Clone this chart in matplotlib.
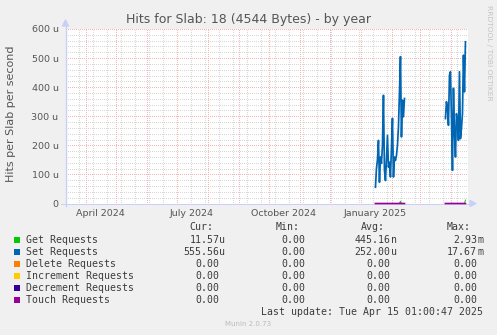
import matplotlib
matplotlib.use("Agg")
import matplotlib.pyplot as plt
import matplotlib.dates as mdates
from matplotlib.lines import Line2D
from matplotlib.patches import Polygon, Rectangle
import numpy as np
import pandas as pd

# ---------------- data ----------------
title = "Hits for Slab: 18 (4544 Bytes) - by year"
ylabel = "Hits per Slab per second"
y_ticks = [0, 100, 200, 300, 400, 500, 600]          # in micro-hits / s
y_tick_labels = ["0", "100 u", "200 u", "300 u", "400 u", "500 u", "600 u"]
x_label_dates = ["2024-04-15", "2024-07-15", "2024-10-15", "2025-01-15"]
x_labels = ["April 2024", "July 2024", "October 2024", "January 2025"]
range_start = "2024-03-11 01:00"
range_end = "2025-04-15 01:00"

seg1_start = "2025-01-15"
set_seg1 = [56, 120, 150, 217, 73, 160, 138, 200, 372, 114, 79, 150, 234, 125, 142,
            91, 190, 293, 91, 160, 148, 165, 200, 263, 380, 505, 229, 355, 298, 361]
get_seg1 = [0, 0, 0, 0, 0, 0, 0, 0, 0, 0, 0, 0, 0, 0, 0,
            0, 0, 0, 0, 0, 0, 0, 0, 0, 0, 8, 0, 0, 0, 0]

seg2_start = "2025-03-26"
set_seg2 = [292, 350, 330, 269, 441, 453, 300, 114, 396, 250, 160, 309, 280, 217,
            453, 223, 258, 309, 510, 384, 556]
get_seg2 = [0, 0, 0, 0, 0, 0, 0, 0, 0, 0, 0, 0, 0, 0,
            0, 0, 0, 0, 0, 0, 11.57]

series_names = ["Get Requests", "Set Requests", "Delete Requests",
                "Increment Requests", "Decrement Requests", "Touch Requests"]
series_colors = ["#00CC00", "#0066B3", "#FF8000", "#FFCC00", "#330099", "#990099"]
cur_vals = ["11.57u", "555.56u", "0.00", "0.00", "0.00", "0.00"]
min_vals = ["0.00", "0.00", "0.00", "0.00", "0.00", "0.00"]
avg_vals = ["445.16n", "252.00u", "0.00", "0.00", "0.00", "0.00"]
max_vals = ["2.93m", "17.67m", "0.00", "0.00", "0.00", "0.00"]
last_update = "Last update: Tue Apr 15 01:00:47 2025"
version = "Munin 2.0.73"
side_text = "RRDTOOL / TOBI OETIKER"

# ---------------- layout ----------------
W, H = 497, 335
BG = "#F0F0F0"
TXT = "#555555"
AXC = "#C8D0F6"

fig = plt.figure(figsize=(W / 100, H / 100), dpi=100, facecolor=BG)

def fx(px):
    return px / W

def fy(py):
    return 1 - py / H

L, R, T, B = 65.5, 468, 29, 203.5
ax = fig.add_axes([fx(L), fy(B), (R - L) / W, (B - T) / H])
ax.set_facecolor("white")
for s in ax.spines.values():
    s.set_visible(False)

t0 = pd.Timestamp(range_start)
t1 = pd.Timestamp(range_end)
ax.set_xlim(mdates.date2num(t0), mdates.date2num(t1 + pd.Timedelta(days=2.5)))
ax.set_ylim(0, 600)

dash = (0, (1, 1.4))
GRAY = "#D8D8D8"
RED = "#F4B6B6"
# minor vertical grid: every second Monday
for d in pd.date_range("2024-03-25", t1 + pd.Timedelta(days=3), freq="14D"):
    ax.axvline(mdates.date2num(d), color=GRAY, lw=0.72, ls=dash, zorder=0, antialiased=False)
# minor horizontal grid
for v in range(20, 601, 20):
    if v % 100:
        ax.axhline(v, color=GRAY, lw=0.72, ls=dash, zorder=0, antialiased=False)
# major vertical grid: month starts
for d in pd.date_range("2024-04-01", t1, freq="MS"):
    ax.axvline(mdates.date2num(d), color=RED, lw=0.72, ls=dash, zorder=0.5, antialiased=False)
for v in y_ticks[1:]:
    ax.axhline(v, color=RED, lw=0.72, ls=dash, zorder=0.5, antialiased=False)

# axis lines with arrows (figure pixels), drawn inside the axes below the data
tf = fig.transFigure
axis_artists = [
    Line2D([fx(L), fx(L)], [fy(206), fy(26)], color=AXC, lw=1, transform=tf),
    Polygon([[fx(L - 3), fy(26)], [fx(L + 3), fy(26)], [fx(L), fy(20)]],
            closed=True, color=AXC, transform=tf),
    Line2D([fx(61), fx(470)], [fy(B), fy(B)], color=AXC, lw=0.72, transform=tf),
    Polygon([[fx(470), fy(B - 3)], [fx(470), fy(B + 3)], [fx(476), fy(B)]],
            closed=True, color=AXC, transform=tf),
]
for a in axis_artists:
    a.set_zorder(2)
    ax.add_artist(a)
    a.set_clip_on(False)

# data
line_widths = [0.72, 1.25, 0.72, 0.72, 0.72, 1.2]
segments = [(seg1_start, get_seg1, set_seg1), (seg2_start, get_seg2, set_seg2)]
for start, g, s in segments:
    dates = pd.date_range(start, periods=len(s), freq="D")
    xs = mdates.date2num(dates)
    zeros = np.zeros(len(s))
    series = [np.array(g), np.array(s), zeros, zeros, zeros, zeros]
    for i, vals in enumerate(series):
        ax.plot(xs, vals, color=series_colors[i], lw=line_widths[i],
                zorder=3 + i, clip_on=False, snap=False)

# ticks
ax.set_yticks(y_ticks)
ax.set_yticklabels(y_tick_labels)
ax.set_xticks(mdates.date2num(pd.to_datetime(x_label_dates)))
ax.set_xticklabels(x_labels)
ax.tick_params(axis="both", length=0, labelsize=6.8, labelcolor=TXT)
ax.tick_params(axis="y", pad=5)
ax.tick_params(axis="x", pad=4)

ax.set_ylabel(ylabel, fontsize=8, color=TXT)
ax.yaxis.set_label_coords((16 - L) / (R - L), 0.5 + (116 - 113.5) / (B - T))

# title
fig.text(fx(248), fy(19), title, ha="center", va="center", fontsize=9, color=TXT)
# side text
fig.text(fx(488.5), fy(53), side_text, ha="center", va="center", rotation=270,
         fontsize=5.4, color="#C4C4C4")

# legend
mono = "DejaVu Sans Mono"
LF = 7.15
LC = "#3C3C3C"
hy = 227.5
for xr, lab in [(213.5, "Cur:"), (299.5, "Min:"), (384.5, "Avg:"), (470.5, "Max:")]:
    fig.text(fx(xr), fy(hy), lab, ha="right", va="center", fontsize=LF, family=mono, color=LC)

row_y0 = 239.7
col_right = [219.5, 305.5, 390.5, 477]
for i, name in enumerate(series_names):
    y = row_y0 + 12 * i
    fig.add_artist(Rectangle((fx(14), fy(y + 3)), 6 / W, 6 / H, transform=tf,
                             facecolor=series_colors[i], edgecolor="none"))
    fig.text(fx(26), fy(y), name, ha="left", va="center", fontsize=LF, family=mono, color=LC)
    for xr, val in zip(col_right, [cur_vals[i], min_vals[i], avg_vals[i], max_vals[i]]):
        num = val.rstrip("unm")
        suf = val[len(num):]
        fig.text(fx(xr), fy(y), num, ha="right", va="center", fontsize=LF, family=mono, color=LC)
        if suf:
            fig.text(fx(xr), fy(y), suf, ha="left", va="center", fontsize=LF, family=mono, color=LC)

fig.text(fx(483), fy(311.7), last_update, ha="right", va="center", fontsize=LF, family=mono, color=LC)
fig.text(fx(248), fy(324), version, ha="center", va="center", fontsize=5, color="#BBBBBB")

fig.savefig("out.png", dpi=100, facecolor=BG)
